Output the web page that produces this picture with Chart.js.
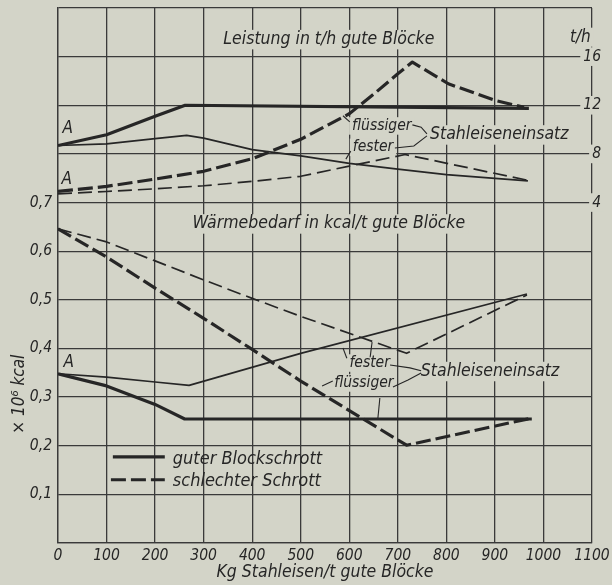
<!DOCTYPE html>
<html>
<head>
<meta charset="utf-8">
<script src="https://cdn.jsdelivr.net/npm/chart.js@4.4.1/dist/chart.umd.min.js"></script>
<style>
  html, body { margin: 0; padding: 0; background: #d3d4c8; }
  #chart { display: block; }
</style>
</head>
<body>
<canvas id="chart" width="612" height="585"></canvas>
<script>
// axis tick labels
const waermeTicks = [0.1, 0.2, 0.3, 0.4, 0.5, 0.6, 0.7];   // x 10^6 kcal, left
const leistungTicks = [4, 8, 12, 16];                       // t/h, right
const seriesNames = ['guter Blockschrott', 'schlechter Schrott'];

// Leistung in t/h -- guter Blockschrott, flüssiger Stahleiseneinsatz
const lstGutFlX = [0, 100, 200, 262, 970];
const lstGutFlY = [8.69, 9.58, 11.1, 12.0, 11.75];
// Leistung -- guter Blockschrott, fester Stahleiseneinsatz
const lstGutFeX = [0, 100, 200, 265, 300, 400, 500, 600, 700, 800, 900, 968];
const lstGutFeY = [8.69, 8.83, 9.25, 9.52, 9.3, 8.35, 7.84, 7.22, 6.75, 6.3, 5.98, 5.78];
// Leistung -- schlechter Schrott, flüssiger
const lstSchFlX = [0, 100, 200, 300, 400, 500, 600, 650, 700, 730, 804, 902, 960];
const lstSchFlY = [4.91, 5.33, 5.93, 6.57, 7.6, 9.2, 11.3, 12.9, 14.6, 15.55, 13.77, 12.38, 11.83];
// Leistung -- schlechter Schrott, fester
const lstSchFeX = [0, 100, 200, 300, 400, 500, 600, 715, 965];
const lstSchFeY = [4.72, 4.91, 5.13, 5.38, 5.74, 6.16, 7.0, 7.95, 5.85];

// Wärmebedarf x 10^6 kcal/t -- guter Blockschrott, flüssiger
const wrmGutFlX = [0, 100, 200, 261, 976];
const wrmGutFlY = [0.348, 0.323, 0.285, 0.255, 0.255];
// Wärmebedarf -- guter Blockschrott, fester
const wrmGutFeX = [0, 100, 200, 270, 500, 966];
const wrmGutFeY = [0.348, 0.341, 0.331, 0.324, 0.39, 0.512];
// Wärmebedarf -- schlechter Schrott, flüssiger
const wrmSchFlX = [0, 100, 200, 300, 400, 500, 718, 972];
const wrmSchFlY = [0.646, 0.588, 0.524, 0.462, 0.398, 0.333, 0.201, 0.256];
// Wärmebedarf -- schlechter Schrott, fester
const wrmSchFeX = [0, 100, 200, 300, 400, 500, 718, 966];
const wrmSchFeY = [0.646, 0.619, 0.58, 0.541, 0.503, 0.466, 0.39, 0.51];

const FONT = "'Liberation Sans Narrow', 'DejaVu Sans Condensed', 'Liberation Sans', sans-serif";
const INK = '#262626';
const PAPER = '#d3d4c8';
const GRID = '#3a3a3a';
const THICK = 3.2;
const THIN = 1.7;

function pts(xs, ys) {
  return xs.map((x, i) => ({ x: x, y: ys[i] }));
}

function line(name, xs, ys, axis, width, dash) {
  return {
    label: name,
    data: pts(xs, ys),
    yAxisID: axis,
    borderColor: INK,
    borderWidth: width,
    borderDash: dash,
    borderCapStyle: 'butt',
    borderJoinStyle: 'round',
    pointRadius: 0,
    fill: false,
    tension: 0
  };
}

// text placed in data units of the named axis
const notes = [
  { text: 'Leistung in t/h gute Blöcke', x: 558, y: 17.4, axis: 'y1', size: 17.5, box: true },
  { text: 'Wärmebedarf in kcal/t gute Blöcke', x: 558, y: 0.656, axis: 'y', size: 17.5, box: true },
  { text: 't/h', x: 1076, y: 17.6, axis: 'y1', size: 17, box: true },
  { text: 'A', x: 20, y: 10.06, axis: 'y1', size: 17 },
  { text: 'A', x: 18, y: 5.9, axis: 'y1', size: 17 },
  { text: 'A', x: 22, y: 0.371, axis: 'y', size: 17 },
  { text: 'flüssiger', x: 667, y: 10.3, axis: 'y1', size: 15.5, box: true },
  { text: 'fester', x: 649, y: 8.54, axis: 'y1', size: 15.5, box: true },
  { text: 'Stahleiseneinsatz', x: 909, y: 9.56, axis: 'y1', size: 17.5, box: true },
  { text: 'fester', x: 642, y: 0.370, axis: 'y', size: 15.5, box: true },
  { text: 'flüssiger', x: 630, y: 0.329, axis: 'y', size: 15.5, box: true },
  { text: 'Stahleiseneinsatz', x: 890, y: 0.3526, axis: 'y', size: 17.5, box: true }
];

const leaders = [
  { axis: 'y1', p: [[601, 10.64], [587, 11.14]] },
  { axis: 'y1', p: [[603, 8.23], [593, 7.57]] },
  { axis: 'y1', p: [[730, 10.39], [748, 10.2], [760, 9.64]] },
  { axis: 'y1', p: [[694, 8.48], [733, 8.65], [760, 9.48]] },
  { axis: 'y', p: [[595, 0.380], [587, 0.401]] },
  { axis: 'y', p: [[643, 0.382], [647, 0.413]] },
  { axis: 'y', p: [[566, 0.333], [544, 0.323]] },
  { axis: 'y', p: [[663, 0.298], [659, 0.257]] },
  { axis: 'y', p: [[684, 0.366], [725, 0.360], [748, 0.354]] },
  { axis: 'y', p: [[690, 0.321], [721, 0.335], [748, 0.3495]] }
];

const legendRows = [
  { name: seriesNames[0], x0: 113, x1: 220, y: 0.177, width: THICK, dash: [] },
  { name: seriesNames[1], x0: 109, x1: 220, y: 0.130, width: THICK, dash: [15, 5] }
];

function setFont(ctx, size) {
  ctx.font = 'italic ' + size + 'px ' + FONT;
}

const paperPlugin = {
  id: 'paper',
  beforeDraw(chart) {
    const ctx = chart.ctx;
    ctx.save();
    ctx.fillStyle = PAPER;
    ctx.fillRect(0, 0, chart.width, chart.height);
    ctx.restore();
  },
  beforeDatasetsDraw(chart) {
    const { ctx, scales } = chart;
    ctx.save();
    ctx.fillStyle = PAPER;
    notes.forEach((n) => {
      if (!n.box) return;
      setFont(ctx, n.size);
      const w = ctx.measureText(n.text).width;
      const cx = scales.x.getPixelForValue(n.x);
      const cy = scales[n.axis].getPixelForValue(n.y);
      ctx.fillRect(cx - w / 2 - 3, cy - n.size / 2 - 1, w + 6, n.size + 2);
    });
    ctx.restore();
  },
  afterDatasetsDraw(chart) {
    const { ctx, scales } = chart;
    const sx = scales.x;
    ctx.save();
    ctx.fillStyle = INK;
    ctx.strokeStyle = INK;
    ctx.textAlign = 'center';
    ctx.textBaseline = 'middle';

    notes.forEach((n) => {
      setFont(ctx, n.size);
      ctx.fillText(n.text, sx.getPixelForValue(n.x), scales[n.axis].getPixelForValue(n.y));
    });

    ctx.lineWidth = 1.1;
    leaders.forEach((l) => {
      const ys = scales[l.axis];
      ctx.beginPath();
      l.p.forEach((q, i) => {
        const px = sx.getPixelForValue(q[0]);
        const py = ys.getPixelForValue(q[1]);
        if (i === 0) ctx.moveTo(px, py); else ctx.lineTo(px, py);
      });
      ctx.stroke();
    });

    // legend
    const yl = scales.y;
    legendRows.forEach((r) => {
      const py = yl.getPixelForValue(r.y);
      ctx.lineWidth = r.width;
      ctx.setLineDash(r.dash);
      ctx.beginPath();
      ctx.moveTo(sx.getPixelForValue(r.x0), py);
      ctx.lineTo(sx.getPixelForValue(r.x1), py);
      ctx.stroke();
      ctx.setLineDash([]);
      setFont(ctx, 18);
      ctx.textAlign = 'left';
      ctx.fillText(r.name, sx.getPixelForValue(r.x1) + 8, py + 2);
    });

    // left axis unit, rotated
    setFont(ctx, 17);
    ctx.textAlign = 'center';
    ctx.translate(sx.left - 38, yl.getPixelForValue(0.306));
    ctx.rotate(-Math.PI / 2);
    ctx.fillText('× 10⁶ kcal', 0, 0);
    ctx.restore();
  }
};

function pickTick(list, v) {
  return list.find((t) => Math.abs(t - v) < 1e-6);
}

const tickFont = { family: FONT, size: 15.5, style: 'italic' };

new Chart(document.getElementById('chart'), {
  type: 'line',
  data: {
    datasets: [
      line(seriesNames[0] + ', flüssiger', lstGutFlX, lstGutFlY, 'y1', THICK, []),
      line(seriesNames[0] + ', fester', lstGutFeX, lstGutFeY, 'y1', THIN, []),
      line(seriesNames[1] + ', flüssiger', lstSchFlX, lstSchFlY, 'y1', THICK, [15, 5]),
      line(seriesNames[1] + ', fester', lstSchFeX, lstSchFeY, 'y1', THIN, [14, 6]),
      line(seriesNames[0] + ', flüssiger', wrmGutFlX, wrmGutFlY, 'y', THICK, []),
      line(seriesNames[0] + ', fester', wrmGutFeX, wrmGutFeY, 'y', THIN, []),
      line(seriesNames[1] + ', flüssiger', wrmSchFlX, wrmSchFlY, 'y', THICK, [15, 5]),
      line(seriesNames[1] + ', fester', wrmSchFeX, wrmSchFeY, 'y', THIN, [14, 6])
    ]
  },
  options: {
    responsive: false,
    animation: false,
    layout: { padding: { top: 8, right: 20, left: 0, bottom: 0 } },
    plugins: { legend: { display: false }, tooltip: { enabled: false } },
    scales: {
      x: {
        type: 'linear',
        min: 0,
        max: 1100,
        ticks: {
          stepSize: 100,
          color: INK,
          font: tickFont,
          padding: 4,
          maxRotation: 0,
          autoSkip: false,
          callback: (v) => String(Math.round(v))
        },
        grid: { color: GRID, lineWidth: 1.3, drawTicks: false },
        border: { color: GRID, width: 1.3 },
        title: {
          display: true,
          text: 'Kg Stahleisen/t gute Blöcke',
          color: INK,
          font: { family: FONT, size: 17.5, style: 'italic' },
          padding: { top: 0, bottom: 2 }
        },
        afterFit: (s) => { s.height = 42; s.paddingLeft = 0; s.paddingRight = 0; }
      },
      y: {
        position: 'left',
        min: 0,
        max: 1.1,
        ticks: {
          stepSize: 0.1,
          color: INK,
          font: tickFont,
          padding: 6,
          autoSkip: false,
          callback: (v) => {
            const t = pickTick(waermeTicks, v);
            return t === undefined ? '' : t.toFixed(1).replace('.', ',');
          }
        },
        grid: { color: GRID, lineWidth: 1.3, drawTicks: false },
        border: { color: GRID, width: 1.3 },
        afterFit: (s) => { s.width = 58; s.paddingTop = 0; s.paddingBottom = 0; }
      },
      y1: {
        position: 'right',
        min: -24,
        max: 20,
        ticks: {
          stepSize: 4,
          color: INK,
          font: tickFont,
          mirror: true,
          padding: 9,
          autoSkip: false,
          showLabelBackdrop: (c) => pickTick(leistungTicks, c.tick.value) !== undefined,
          backdropColor: PAPER,
          backdropPadding: { x: 3, y: 0 },
          callback: (v) => {
            const t = pickTick(leistungTicks, v);
            return t === undefined ? '' : String(t);
          }
        },
        grid: { display: false, drawTicks: false },
        border: { display: false },
        afterFit: (s) => { s.width = 0; s.paddingTop = 0; s.paddingBottom = 0; }
      }
    }
  },
  plugins: [paperPlugin]
});
</script>
</body>
</html>
